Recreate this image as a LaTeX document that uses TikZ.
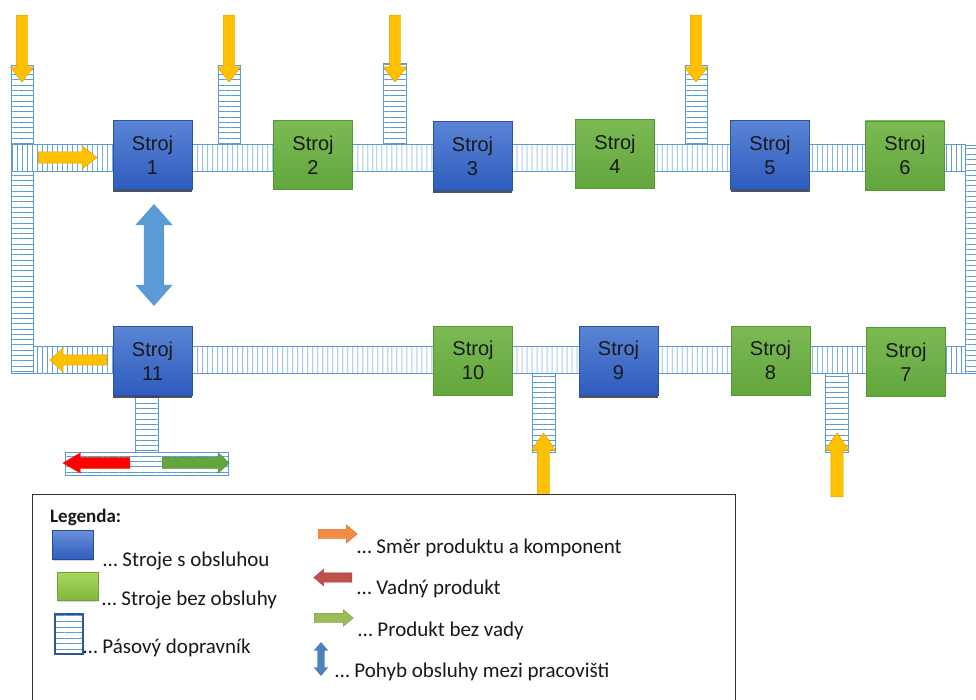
\documentclass[tikz,border=0pt]{standalone}
\usepackage{fontspec}
\setmainfont{Liberation Sans}
\newfontfamily\legfont{Carlito}
\usepackage{tikz}
\usetikzlibrary{positioning,shapes.arrows,patterns.meta,shadows}
\usepackage{xcolor}
\definecolor{beltc}{RGB}{91,155,213}
\definecolor{yelc}{RGB}{255,192,0}
\definecolor{bluetop}{RGB}{90,132,212}
\definecolor{bluebot}{RGB}{46,92,190}
\definecolor{greentop}{RGB}{124,186,84}
\definecolor{greenbot}{RGB}{98,166,60}
\definecolor{txtc}{RGB}{25,25,25}

\begin{document}
\begin{tikzpicture}[x=1pt, y=-1pt,
    hbelt/.style={draw=beltc, line width=0.9pt, inner sep=0pt, anchor=north west,
      preaction={fill=white},
      pattern={Lines[angle=90, distance=5.4pt, line width=0.8pt]}, pattern color=beltc},
    vbelt/.style={hbelt, pattern={Lines[angle=0, distance=5.3pt, line width=0.8pt]}},
    mach/.style={minimum width=79pt, minimum height=69pt, inner sep=0pt,
      align=center, text=txtc, font=\fontsize{20}{24}\selectfont},
    manned/.style={mach, top color=bluetop, bottom color=bluebot, draw=bluebot!90!black,
      drop shadow={shadow xshift=0pt, shadow yshift=-2.5pt, fill=black!75, opacity=0.9}},
    auto/.style={mach, top color=greentop, bottom color=greenbot, draw=greenbot!90!black},
    blk/.style={single arrow, inner xsep=0pt, minimum width=1pt},
    ylw/.style={blk, fill=yelc, draw=yelc!85!black, line width=0.4pt},
    legtxt/.style={anchor=base west, inner sep=0pt, text=txtc,
      font=\legfont\fontsize{21}{25}\selectfont}]
  \useasboundingbox (0,0) rectangle (976,700);
  \clip (0,0) rectangle (976,700);
  % === Conveyor belts: main loop ===
  \node[hbelt, minimum width=932pt, minimum height=27pt] (botbelt) at (33,346) {};
  \node[vbelt, minimum width=22pt, minimum height=308pt] (leftbelt) at (11,65) {};
  \node[hbelt, minimum width=954pt, minimum height=27pt] (topbelt) at (11,144) {};
  \node[vbelt, minimum width=24pt, minimum height=228pt] (rightbelt) at (965,145) {};
  % === Feeder belts ===
  \node[vbelt, minimum width=22pt, minimum height=79pt] (feed2) at (218,65) {};
  \node[vbelt, minimum width=23pt, minimum height=81pt] (feed3) at (383,63) {};
  \node[vbelt, minimum width=22pt, minimum height=79pt] (feed5) at (685,65) {};
  \node[vbelt, minimum width=23pt, minimum height=79pt] (feed10) at (532,373) {};
  \node[vbelt, minimum width=23pt, minimum height=79pt] (feed8) at (825,373) {};
  \node[vbelt, minimum width=23pt, minimum height=56pt] (outbelt) at (135,396) {};
  \node[hbelt, pattern={Lines[angle=0, distance=5.3pt, line width=0.8pt]},
    minimum width=163pt, minimum height=23pt] (sortbelt) at (65,452) {};
  % === Machines ===
  \node[manned] (m1)  at (152.5,155)   {Stroj\\1};
  \node[auto]   (m2)  at (313,155)     {Stroj\\2};
  \node[manned] (m3)  at (472.5,156)   {Stroj\\3};
  \node[auto]   (m4)  at (615,154)     {Stroj\\4};
  \node[manned] (m5)  at (770,155)     {Stroj\\5};
  \node[auto]   (m6)  at (905,155.5)   {Stroj\\6};
  \node[auto]   (m7)  at (906,362)     {Stroj\\7};
  \node[auto]   (m8)  at (770.5,360.5) {Stroj\\8};
  \node[manned] (m9)  at (618.5,360.5) {Stroj\\9};
  \node[auto]   (m10) at (473,360.5)   {Stroj\\10};
  \node[manned] (m11) at (152.5,361)   {Stroj\\11};
  % === Component inputs (yellow) ===
  \node[ylw, rotate=-90, anchor=tail, minimum height=67pt, inner ysep=5.5pt,
    single arrow head extend=6pt, single arrow tip angle=75] (in1) at (22,15) {};
  \node[ylw, rotate=-90, anchor=tail, minimum height=67pt, inner ysep=5.5pt,
    single arrow head extend=6pt, single arrow tip angle=75] (in2) at (229,15) {};
  \node[ylw, rotate=-90, anchor=tail, minimum height=67pt, inner ysep=5.5pt,
    single arrow head extend=6pt, single arrow tip angle=75] (in3) at (395,15) {};
  \node[ylw, rotate=-90, anchor=tail, minimum height=67pt, inner ysep=5.5pt,
    single arrow head extend=6pt, single arrow tip angle=75] (in5) at (696,15) {};
  \node[ylw, rotate=90, anchor=tail, minimum height=64pt, inner ysep=6pt,
    single arrow head extend=6pt, single arrow tip angle=70] (in10) at (543.5,497) {};
  \node[ylw, rotate=90, anchor=tail, minimum height=64pt, inner ysep=6pt,
    single arrow head extend=6pt, single arrow tip angle=70] (in8) at (837,497) {};
  % === Flow direction on the loop ===
  \node[ylw, anchor=tail, minimum height=59pt, inner ysep=5.5pt,
    single arrow head extend=6pt, single arrow tip angle=75] (flowtop) at (38,157.5) {};
  \node[ylw, rotate=180, anchor=tail, minimum height=57pt, inner ysep=5pt,
    single arrow head extend=7pt, single arrow tip angle=85] (flowbot) at (107,360) {};
  % === Sorting of output ===
  \node[blk, rotate=180, anchor=tail, fill=red, draw=red!70!orange, minimum height=67pt,
    inner ysep=5.5pt, single arrow head extend=4.5pt, single arrow tip angle=60] (bad) at (130,463) {};
  \node[blk, anchor=tail, fill=greenbot, draw=greenbot!80!black, minimum height=67pt,
    inner ysep=5.5pt, single arrow head extend=4.5pt, single arrow tip angle=85] (good) at (162,463) {};
  % === Operator movement ===
  \node[double arrow, rotate=90, fill=beltc, minimum height=102pt, inner xsep=0pt,
    inner ysep=10pt, minimum width=1pt, double arrow head extend=8.5pt,
    double arrow tip angle=83] (oper) at (154,255) {};
  % === Legend ===
  \node[draw=black!80, line width=1pt, fill=white, anchor=north west, inner sep=0pt,
    minimum width=703pt, minimum height=215pt] (leg) at (32,494) {};
  \node[anchor=base west, inner sep=0pt, text=txtc,
    font=\legfont\bfseries\fontsize{19}{23}\selectfont] (legtitle) at (50,522) {Legenda:};
  \node[anchor=north west, inner sep=0pt, minimum width=41pt, minimum height=29pt,
    top color=bluetop!90!white, bottom color=bluebot, draw=bluebot!80!black,
    drop shadow={shadow xshift=1pt, shadow yshift=-1.5pt, fill=black!30}] (keym) at (52,530) {};
  \node[legtxt] (keymt) at (103,566) {… Stroje s obsluhou};
  \node[anchor=north west, inner sep=0pt, minimum width=41pt, minimum height=28pt,
    top color={rgb,255:red,170;green,214;blue,96}, bottom color={rgb,255:red,128;green,184;blue,58},
    draw={rgb,255:red,118;green,160;blue,60},
    drop shadow={shadow xshift=1pt, shadow yshift=-1.5pt, fill=black!30}] (keya) at (57,572) {};
  \node[legtxt] (keyat) at (102,605) {… Stroje bez obsluhy};
  \node[vbelt, draw={rgb,255:red,47;green,85;blue,151}, line width=2pt,
    pattern={Lines[angle=0, distance=5.6pt, line width=1pt]},
    minimum width=28pt, minimum height=40pt] (keyb) at (54,613) {};
  \node[legtxt] (keybt) at (83,653) {… Pásový dopravník};
  \node[blk, anchor=tail, fill={rgb,255:red,240;green,140;blue,70}, draw={rgb,255:red,215;green,110;blue,40},
    minimum height=39pt, inner ysep=4.5pt, single arrow head extend=4.5pt,
    single arrow tip angle=80] (keyf) at (318,534) {};
  \node[legtxt] (keyft) at (357,553) {… Směr produktu a komponent};
  \node[blk, rotate=180, anchor=tail, fill={rgb,255:red,192;green,80;blue,77}, draw={rgb,255:red,165;green,60;blue,58},
    minimum height=38pt, inner ysep=4.5pt, single arrow head extend=3.5pt,
    single arrow tip angle=80] (keyr) at (352,577.5) {};
  \node[legtxt] (keyrt) at (357,594) {… Vadný produkt};
  \node[blk, anchor=tail, fill={rgb,255:red,155;green,187;blue,89}, draw={rgb,255:red,120;green,150;blue,62},
    minimum height=39pt, inner ysep=4.5pt, single arrow head extend=3.5pt,
    single arrow tip angle=80] (keyg) at (314,618) {};
  \node[legtxt] (keygt) at (358,636) {… Produkt bez vady};
  \node[double arrow, rotate=90, fill={rgb,255:red,79;green,129;blue,189}, minimum height=34pt,
    inner xsep=0pt, inner ysep=3.5pt, minimum width=1pt, double arrow head extend=3.5pt,
    double arrow tip angle=80] (keyo) at (321,659) {};
  \node[legtxt] (keyot) at (335,677) {… Pohyb obsluhy mezi pracovišti};
\end{tikzpicture}
\end{document}
